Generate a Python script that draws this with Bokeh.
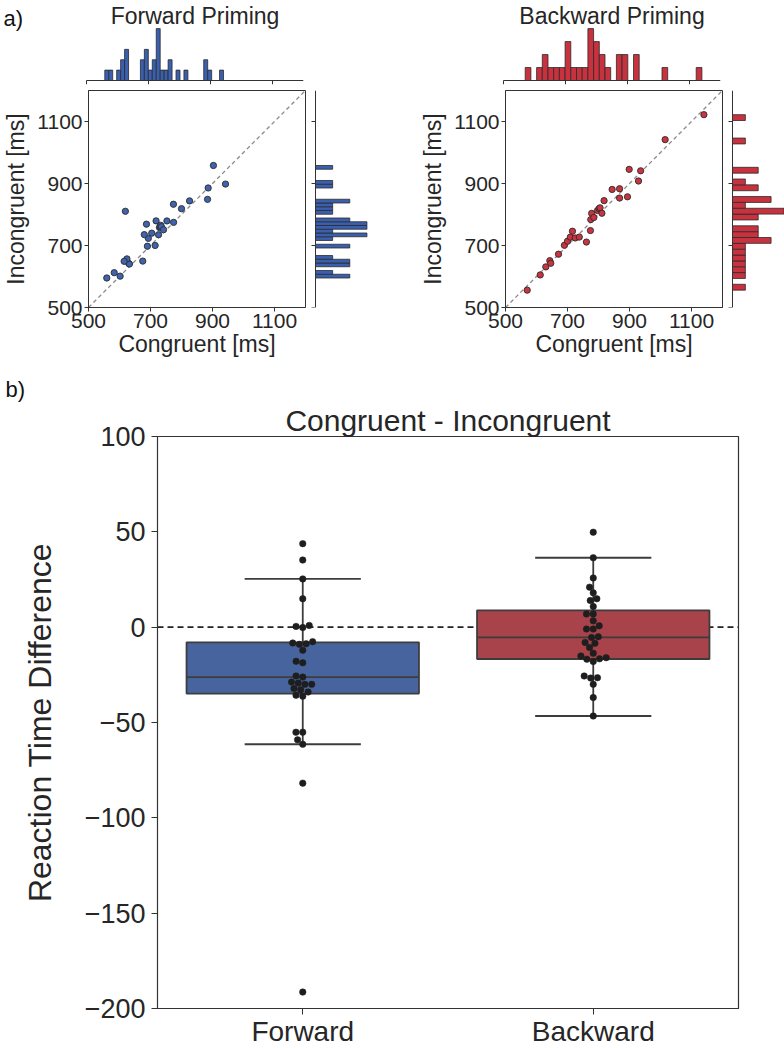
import numpy as np
from bokeh.plotting import figure
from bokeh.layouts import row, column
from bokeh.models import Range1d, FixedTicker, Label, Span, Title
from bokeh.embed import file_html
from bokeh.resources import INLINE

# Mean reaction time per participant [ms]
fwd_congruent = [942, 884, 675, 715, 602, 886, 774.5, 690, 630, 632, 800, 826, 753, 583, 693, 624,
                 615, 704, 559, 903, 680, 774, 718, 687, 619, 726, 729, 731, 733, 735, 742]
fwd_incongruent = [898.2, 848.8, 649.7, 700.1, 601.1, 885.6, 774.7, 697.6, 642.1, 640.3, 818.7, 843.9,
                   779.2, 612.3, 723.0, 656.8, 649.0, 739.7, 595.2, 958.1, 735.1, 833.1, 779.4, 768.8,
                   810.4, 734.7, 757.8, 761.0, 765.2, 760.6, 751.0]
bwd_congruent = [570, 612, 630, 643, 646, 671, 690, 700, 709, 716, 725, 738, 761, 774, 775, 778, 785,
                 797, 802, 805, 811, 818, 844, 868, 868, 893.5, 899, 929, 936, 1015, 1140]
bwd_incongruent = [556.0, 605.1, 631.0, 651.0, 642.7, 672.0, 700.7, 713.7, 727.0, 746.0, 724.3, 727.2,
                   711.2, 748.2, 783.5, 803.6, 790.4, 813.0, 818.8, 821.6, 804.1, 844.7, 880.9, 883.1,
                   853.1, 857.1, 945.6, 908.0, 941.0, 1041.5, 1122.0]

conditions = ["Forward", "Backward"]
panel_titles = ["Forward Priming", "Backward Priming"]
rt_limits = [500, 1200]
rt_ticks = [500, 700, 900, 1100]
diff_limits = [-200, 100]
diff_ticks = [-200, -150, -100, -50, 0, 50, 100]

FONT = "Liberation Sans"
INK = "#333333"
TEXT = "#262626"
BLUE_PT, BLUE_BAR, BLUE_BOX = "#3f63ad", "#3a5fae", "#48649e"
RED_PT, RED_BAR, RED_BOX = "#c93440", "#c8313e", "#a9434b"
BAR_EDGE = "#2b2b2b"

FW, MH, MW, TICK = 217, 55, 54, 4          # joint-plot frame sizes [px]
SIDE_GAP = 7                                # space left of the side histogram spine
MS_PER_PX = (rt_limits[1] - rt_limits[0]) / FW


def plain(p):
    p.xgrid.visible = False
    p.ygrid.visible = False
    p.background_fill_color = "white"
    p.border_fill_color = "white"


def style_axes(p):
    plain(p)
    for ax in p.axis:
        ax.axis_line_color = INK
        ax.major_tick_line_color = INK
        ax.minor_tick_line_color = None
        ax.major_tick_in = 0
        ax.major_label_text_font = FONT
        ax.major_label_text_color = TEXT
        ax.axis_label_text_font = FONT
        ax.axis_label_text_color = TEXT
        ax.axis_label_text_font_style = "normal"


def top_hist(xv, bar_color, title, bins, left, right, panel_label=None):
    """Marginal histogram of congruent times, drawn with its own spine and ticks.
    The frame reaches the left edge of the figure so the headings fit inside it."""
    cx, ex = np.histogram(np.asarray(xv), bins=bins)
    cpp = cx.max() * 1.06 / MH
    p = figure(frame_width=left + FW, frame_height=84,
               x_range=Range1d(rt_limits[0] - left * MS_PER_PX, rt_limits[1]),
               y_range=Range1d(-TICK * cpp, 80 * cpp),
               min_border_left=0, min_border_right=right, min_border_top=0, min_border_bottom=4,
               x_axis_location=None, y_axis_location=None,
               output_backend="svg", toolbar_location=None)
    m = cx > 0
    p.quad(left=ex[:-1][m], right=ex[1:][m], bottom=0, top=cx[m],
           fill_color=bar_color, line_color=BAR_EDGE, line_width=0.8)
    p.segment(x0=rt_limits[0], y0=0, x1=rt_limits[1], y1=0, line_color=INK, line_width=1)
    p.segment(x0=rt_ticks, y0=0, x1=rt_ticks, y1=-TICK * cpp, line_color=INK, line_width=1)
    p.outline_line_color = None
    plain(p)
    p.add_layout(Label(x=sum(rt_limits) / 2, y=0, y_offset=65, text=title,
                       text_align="center", text_baseline="middle",
                       text_font=FONT, text_font_size="23px", text_color=TEXT))
    if panel_label:
        p.add_layout(Label(x=rt_limits[0], y=0, x_offset=-83, y_offset=62, text=panel_label,
                           text_align="left", text_baseline="middle",
                           text_font=FONT, text_font_size="22px", text_color="#111111"))
    return p


def scatter_panel(xv, yv, pt_color, left):
    p = figure(frame_width=FW, frame_height=FW, x_range=Range1d(*rt_limits),
               y_range=Range1d(*rt_limits),
               min_border_left=left, min_border_right=3, min_border_top=2, min_border_bottom=63,
               output_backend="svg", toolbar_location=None)
    p.line(x=rt_limits, y=rt_limits, line_color="#8a8a8a", line_dash="4 3", line_width=1.3)
    p.scatter(xv, yv, size=6.3, fill_color=pt_color, line_color=BAR_EDGE, line_width=0.9)
    p.outline_line_color = INK
    p.outline_line_width = 1
    p.xaxis.ticker = FixedTicker(ticks=rt_ticks)
    p.yaxis.ticker = FixedTicker(ticks=rt_ticks)
    p.xaxis.axis_label = "Congruent [ms]"
    p.yaxis.axis_label = "Incongruent [ms]"
    style_axes(p)
    for ax in p.axis:
        ax.major_tick_out = TICK
        ax.major_label_standoff = 2
        ax.major_label_text_font_size = "21px"
        ax.axis_label_text_font_size = "23px"
    p.xaxis.axis_label_standoff = 0
    p.yaxis.axis_label_standoff = 5
    return p


def side_hist(yv, bar_color, bins, right):
    cy, ey = np.histogram(np.asarray(yv), bins=bins)
    cpp = cy.max() * 1.05 / MW
    p = figure(frame_width=SIDE_GAP + MW, frame_height=FW,
               x_range=Range1d(-SIDE_GAP * cpp, MW * cpp), y_range=Range1d(*rt_limits),
               min_border_left=0, min_border_right=right, min_border_top=2,
               min_border_bottom=63, x_axis_location=None, y_axis_location=None,
               output_backend="svg", toolbar_location=None)
    m = cy > 0
    p.quad(left=0, right=cy[m], bottom=ey[:-1][m], top=ey[1:][m],
           fill_color=bar_color, line_color=BAR_EDGE, line_width=0.8)
    p.segment(x0=0, y0=rt_limits[0], x1=0, y1=rt_limits[1], line_color=INK, line_width=1)
    p.segment(x0=0, y0=rt_ticks, x1=-TICK * cpp, y1=rt_ticks, line_color=INK, line_width=1)
    p.outline_line_color = None
    plain(p)
    return p


LEFT_F, LEFT_B_J = 86, 133
side_w_f = SIDE_GAP + MW + 3
top_row = row(
    top_hist(fwd_congruent, BLUE_BAR, panel_titles[0], 30, LEFT_F, 3 + side_w_f, panel_label="a)"),
    top_hist(bwd_congruent, RED_BAR, panel_titles[1], 31, LEFT_B_J, 3 + SIDE_GAP + MW),
)
joint_row = row(
    scatter_panel(fwd_congruent, fwd_incongruent, BLUE_PT, LEFT_F),
    side_hist(fwd_incongruent, BLUE_BAR, 30, 3),
    scatter_panel(bwd_congruent, bwd_incongruent, RED_PT, LEFT_B_J),
    side_hist(bwd_incongruent, RED_BAR, 30, 0),
)

# ---- box + swarm of the per-participant difference ----
FW_B, FH_B, LEFT_B, RIGHT_B = 581, 572, 157, 46
diffs = [np.asarray(fwd_congruent) - np.asarray(fwd_incongruent),
         np.asarray(bwd_congruent) - np.asarray(bwd_incongruent)]
box_colors = [BLUE_BOX, RED_BOX]

bp = figure(frame_width=FW_B, frame_height=FH_B, x_range=Range1d(-0.5, 1.5),
            y_range=Range1d(*diff_limits), min_border_left=LEFT_B, min_border_right=RIGHT_B,
            min_border_top=66, min_border_bottom=40, output_backend="svg", toolbar_location=None)
bp.add_layout(Title(text="Congruent - Incongruent", align="center", standoff=0,
                    text_font=FONT, text_font_size="30px", text_font_style="normal",
                    text_color=TEXT), "above")
bp.add_layout(Title(text="b)", align="left", offset=-152, standoff=0,
                    text_font=FONT, text_font_size="22px", text_font_style="normal",
                    text_color="#111111"), "above")

px_x = FW_B / 2.0
px_y = FH_B / float(diff_limits[1] - diff_limits[0])


def beeswarm(vals_px, d):
    order = np.argsort(vals_px, kind="stable")
    placed = []
    out = np.zeros(len(vals_px))
    for i in order:
        yy = vals_px[i]
        nb = [(x0, y0) for (x0, y0) in placed if abs(y0 - yy) < d]
        cands = [0.0]
        for (x0, y0) in nb:
            dx = np.sqrt(max(d * d - (yy - y0) ** 2, 0.0))
            cands += [x0 - dx, x0 + dx]
        cands.sort(key=lambda c: (round(abs(c), 6), c))
        for c in cands:
            if all((c - x0) ** 2 + (yy - y0) ** 2 >= d * d - 1e-6 for (x0, y0) in nb):
                out[i] = c
                placed.append((c, yy))
                break
    return out


bp.add_layout(Span(location=0, dimension="width", line_color="#222222", line_dash="6 4",
                   line_width=1.6, level="underlay"))

for k, (vals, col) in enumerate(zip(diffs, box_colors)):
    q1, med, q3 = np.percentile(vals, [25, 50, 75])
    iqr = q3 - q1
    hi = vals[vals <= q3 + 1.5 * iqr].max()
    lo = vals[vals >= q1 - 1.5 * iqr].min()
    bp.segment(x0=[k, k], y0=[q3, q1], x1=[k, k], y1=[hi, lo], line_color="#3c3c3c", line_width=1.8)
    bp.segment(x0=[k - 0.2, k - 0.2], y0=[hi, lo], x1=[k + 0.2, k + 0.2], y1=[hi, lo],
               line_color="#3c3c3c", line_width=1.8)
    bp.quad(left=k - 0.4, right=k + 0.4, bottom=q1, top=q3, fill_color=col,
            line_color="#3c3c3c", line_width=1.8)
    bp.segment(x0=k - 0.4, y0=med, x1=k + 0.4, y1=med, line_color="#3c3c3c", line_width=1.8)
    offs = beeswarm(vals * px_y, 6.8) / px_x
    bp.scatter(k + offs, vals, size=6.5, fill_color="#1e1e1e", line_color="#1e1e1e", line_width=0.5)

bp.xaxis.ticker = FixedTicker(ticks=[0, 1])
bp.xaxis.major_label_overrides = {i: c for i, c in enumerate(conditions)}
bp.yaxis.ticker = FixedTicker(ticks=diff_ticks)
bp.yaxis.major_label_overrides = {t: str(t).replace("-", "\u2212") for t in diff_ticks}
bp.yaxis.axis_label = "Reaction Time Difference"
bp.outline_line_color = INK
bp.outline_line_width = 1.2
style_axes(bp)
for ax in bp.axis:
    ax.major_tick_out = 6
bp.xaxis.major_label_text_font_size = "28px"
bp.yaxis.major_label_text_font_size = "27px"
bp.xaxis.major_label_standoff = 1
bp.yaxis.major_label_standoff = 6
bp.yaxis.axis_label_text_font_size = "32px"
bp.yaxis.axis_label_standoff = 24

page = column(top_row, joint_row, row(bp))

with open("out.html", "w") as f:
    f.write(file_html(page, INLINE))
